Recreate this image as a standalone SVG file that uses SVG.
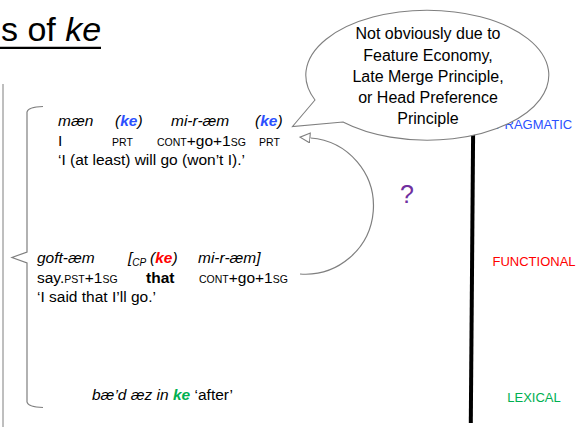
<svg xmlns="http://www.w3.org/2000/svg" width="581" height="427" viewBox="0 0 581 427">
<style>
text{font-family:"Liberation Sans",Arial,sans-serif;fill:#000}
.ex{font-size:15.5px}
.it{font-style:italic}
.sc{font-size:10.5px}
.kb{font-weight:bold;fill:#2b50ff}
.kr{font-weight:bold;fill:#ff0000}
.kg{font-weight:bold;fill:#00b050}
.bub{font-size:16px;text-anchor:middle}
.lab{font-size:13px;text-anchor:middle}
.gray{fill:none;stroke:#7f7f7f;stroke-width:1.2}
</style>
<defs>
<marker id="openhead" markerWidth="12" markerHeight="12" refX="0" refY="5.5" orient="auto" markerUnits="userSpaceOnUse" viewBox="0 0 12 12">
<path d="M0.6,0.6 L10.5,5.5 L0.6,10.4 Z" fill="#fff" stroke="#7f7f7f" stroke-width="1.1"/>
</marker>
</defs>
<rect width="581" height="427" fill="#fff"/>

<g id="title">
<text x="1" y="40.5" style="font-size:34px">s of <tspan class="it">ke</tspan></text>
<line x1="0" y1="47.8" x2="101" y2="47.8" stroke="#000" stroke-width="2.2"/>
</g>

<g id="frame">
<line x1="3" y1="84" x2="3" y2="427" stroke="#7f7f7f" stroke-width="1"/>
<path class="gray" d="M43,106.5 Q28,107 27,112 L27,252 L12,257.5 L27,263 L27,402 Q28,407 43,407.5"/>
</g>

<g id="scale">
<line x1="473.3" y1="110" x2="470.8" y2="423" stroke="#000" stroke-width="4"/>
<text class="lab" x="534" y="128.5" style="fill:#2b50ff">PRAGMATIC</text>
<text class="lab" x="534" y="266" style="fill:#ff0000">FUNCTIONAL</text>
<text class="lab" x="534" y="402" style="fill:#00b050">LEXICAL</text>
</g>

<g id="ex1" class="ex">
<text class="ex it" x="58" y="126">mæn</text>
<text class="ex it" x="115" y="126">(<tspan class="kb">ke</tspan>)</text>
<text class="ex it" x="171" y="126">mi-r-æm</text>
<text class="ex it" x="255" y="126">(<tspan class="kb">ke</tspan>)</text>
<text class="ex" x="58" y="145.5">I</text>
<text class="sc" x="112" y="145.5">PRT</text>
<text class="ex" x="157" y="145.5"><tspan class="sc">CONT</tspan>+go+1<tspan class="sc">SG</tspan></text>
<text class="sc" x="259" y="145.5">PRT</text>
<text class="ex" x="58" y="165">‘I (at least) will go (won’t I).’</text>
</g>

<g id="ex2">
<text class="ex it" x="37" y="263">goft-æm</text>
<text class="ex it" x="128" y="263">[<tspan style="font-size:10px" dy="3">CP</tspan></text>
<text class="ex it" x="150" y="263">(<tspan class="kr">ke</tspan>)</text>
<text class="ex it" x="198" y="263">mi-r-æm]</text>
<text class="ex" x="37" y="283">say.<tspan class="sc">PST</tspan>+1<tspan class="sc">SG</tspan></text>
<text class="ex" x="146" y="283" font-weight="bold">that</text>
<text class="ex" x="199" y="283"><tspan class="sc">CONT</tspan>+go+1<tspan class="sc">SG</tspan></text>
<text class="ex" x="37" y="302">‘I said that I’ll go.’</text>
</g>

<g id="ex3">
<text class="ex" x="92" y="400"><tspan class="it">bæ’d æz in </tspan><tspan class="it kg">ke</tspan> ‘after’</text>
</g>

<g id="question">
<text x="400" y="203" style="font-size:25px;fill:#7030a0">?</text>
</g>

<g id="bubble">
<path d="M315,100 L292.5,126.5 L343,122 A121.5,65 0 1 0 315,100 Z" fill="#fff" stroke="#7f7f7f" stroke-width="1.1"/>
<text class="bub" x="428" y="39">Not obviously due to</text>
<text class="bub" x="428" y="61">Feature Economy,</text>
<text class="bub" x="428" y="82">Late Merge Principle,</text>
<text class="bub" x="428" y="103">or Head Preference</text>
<text class="bub" x="428" y="123.5">Principle</text>
</g>

<g id="connectors">
<path class="gray" d="M300,274 A68,68 0 0 0 310.5,138" marker-end="url(#openhead)"/>
</g>
</svg>
